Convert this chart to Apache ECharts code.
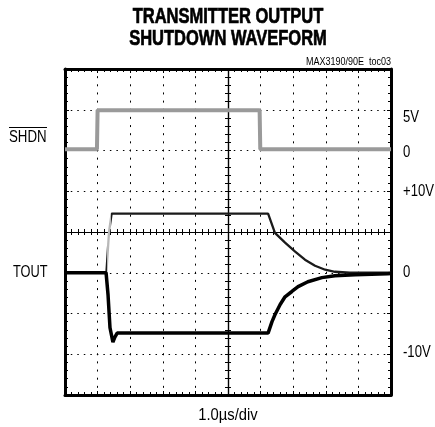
<!DOCTYPE html>
<html>
<head>
<meta charset="utf-8">
<script src="https://cdn.jsdelivr.net/npm/echarts@6/dist/echarts.min.js"></script>
<style>
html,body{margin:0;padding:0;background:#fff;}
#c{width:435px;height:427px;}
</style>
</head>
<body>
<div id="c"></div>
<script>
// ---- data (time in µs, voltage in V) ----
const shdnT = [0, 0.98, 1.00, 5.97, 5.99, 10];
const shdnV = [0.15, 0.15, 4.95, 4.95, 0.15, 0.15];

const toutNegT = [0, 1.26, 1.32, 1.38, 1.47, 1.53, 1.60, 6.23, 6.35, 6.44, 6.60, 6.75, 6.96, 7.15, 7.45, 7.88, 8.28, 8.90, 9.90, 10];
const toutNegV = [0, 0, -2.7, -6.75, -8.5, -7.9, -7.4, -7.4, -6.0, -5.15, -3.9, -2.95, -2.3, -1.7, -1.1, -0.6, -0.37, -0.25, -0.12, -0.1];

const toutPosT = [0, 1.27, 1.35, 1.43, 6.23, 6.44, 6.75, 7.06, 7.36, 7.67, 7.98, 8.28, 8.74, 10];
const toutPosV = [0, 0, 5.0, 7.25, 7.25, 4.9, 3.7, 2.6, 1.6, 0.86, 0.37, 0.12, 0, 0];

const rightLabels = ['5V', '0', '+10V', '0', '-10V'];
const leftLabels = ['SHDN', 'TOUT'];
const titleLines = ['TRANSMITTER OUTPUT', 'SHUTDOWN WAVEFORM'];
const noteText = 'MAX3190/90E  toc03';
const xLabel = '1.0\u00b5s/div';

const pairs = (t, v) => t.map((x, i) => [x, v[i]]);

const FONT = "'Liberation Sans',Arial,sans-serif";

const chart = echarts.init(document.getElementById('c'), null, {renderer: 'canvas'});

const G = {left: 65, top: 69, w: 326, h: 326};

function borderX(pos) {
  return {
    type: 'value', min: 0, max: 10, interval: 1, position: pos, gridIndex: 0,
    axisLine: {show: true, onZero: false, lineStyle: {color: '#000', width: 3}},
    axisTick: {show: true, inside: true, length: 4, lineStyle: {color: '#000', width: 1}},
    minorTick: {show: true, splitNumber: 5, length: 3, lineStyle: {color: '#000', width: 1}},
    axisLabel: {show: false}, splitLine: {show: false}
  };
}
function centerX(pos) {
  return {
    type: 'value', min: 0, max: 10, interval: 1, position: pos, gridIndex: 0,
    axisLine: {show: true, onZero: true, onZeroAxisIndex: 0, lineStyle: {color: '#000', width: 1.2}},
    axisTick: {show: true, inside: false, length: 3, lineStyle: {color: '#000', width: 1}},
    minorTick: {show: true, splitNumber: 5, length: 3, lineStyle: {color: '#000', width: 1}},
    axisLabel: {show: false}, splitLine: {show: false}
  };
}
function borderY(pos) {
  return {
    type: 'value', min: -4, max: 4, interval: 1, position: pos, gridIndex: 0,
    axisLine: {show: true, onZero: false, lineStyle: {color: '#000', width: 3}},
    axisTick: {show: true, inside: true, length: 4, lineStyle: {color: '#000', width: 1}},
    minorTick: {show: true, splitNumber: 5, length: 3, lineStyle: {color: '#000', width: 1}},
    axisLabel: {show: false}, splitLine: {show: false}
  };
}
function centerY(pos) {
  return {
    type: 'value', min: -4, max: 4, interval: 1, position: pos, offset: -G.w / 2, gridIndex: 0,
    axisLine: {show: true, onZero: false, lineStyle: {color: '#000', width: 1.2}},
    axisTick: {show: true, inside: false, length: 3, lineStyle: {color: '#000', width: 1}},
    minorTick: {show: true, splitNumber: 5, length: 3, lineStyle: {color: '#000', width: 1}},
    axisLabel: {show: false}, splitLine: {show: false}
  };
}

const x0 = borderX('bottom');
x0.splitLine = {show: true, lineStyle: {color: '#000', width: 1, type: [2, 6.15], dashOffset: 1}};
const y0 = borderY('left');
y0.splitLine = {show: true, lineStyle: {color: '#000', width: 1, type: [1.5, 5.02], dashOffset: 0.75}};

function txt(text, x, y, size, align, weight, sx, stroke) {
  const st = {text: text, fill: '#000', font: (weight || 'normal') + ' ' + size + 'px ' + FONT,
              textAlign: align || 'left', textVerticalAlign: 'middle'};
  if (stroke) { st.stroke = '#000'; st.lineWidth = stroke; }
  return {type: 'text', x: x, y: y, scaleX: sx || 1, silent: true, z: 10, style: st};
}

const option = {
  animation: false,
  backgroundColor: '#fff',
  grid: {left: G.left, top: G.top, width: G.w, height: G.h, containLabel: false},
  xAxis: [x0, borderX('top'), centerX('bottom'), centerX('top')],
  yAxis: [
    y0, borderY('right'), centerY('left'), centerY('right'),
    {type: 'value', min: -30, max: 10, show: false, position: 'left', axisLine: {onZero: false}},
    {type: 'value', min: -15, max: 25, show: false, position: 'left', axisLine: {onZero: false}}
  ],
  visualMap: [{
    type: 'piecewise', show: false, dimension: 0, seriesIndex: 1,
    pieces: [{gte: 1.28, lte: 1.42, color: '#b8b8b8'}],
    outOfRange: {color: '#1a1a1a'}
  }],
  series: [
    {type: 'line', name: 'SHDN', xAxisIndex: 0, yAxisIndex: 4, data: pairs(shdnT, shdnV),
     showSymbol: false, symbol: 'none', lineStyle: {color: '#9a9a9a', width: 4}, z: 3},
    {type: 'line', name: 'TOUT+', xAxisIndex: 0, yAxisIndex: 5, data: pairs(toutPosT, toutPosV),
     showSymbol: false, symbol: 'none', lineStyle: {width: 2.3}, z: 3},
    {type: 'line', name: 'TOUT-', xAxisIndex: 0, yAxisIndex: 5, data: pairs(toutNegT, toutNegV),
     showSymbol: false, symbol: 'none', lineStyle: {color: '#000', width: 3.5}, z: 4}
  ],
  graphic: [
    txt(titleLines[0], 228, 17, 22, 'center', 'bold', 0.75, 0.7),
    txt(titleLines[1], 228, 39, 22, 'center', 'bold', 0.75, 0.7),
    txt(noteText, 391, 62, 10, 'right', 'normal', 0.9),
    txt(leftLabels[0], 9, 138, 16, 'left', 'normal', 0.83),
    {type: 'line', silent: true, shape: {x1: 9, y1: 127.5, x2: 47, y2: 127.5}, style: {stroke: '#000', lineWidth: 1}},
    txt(leftLabels[1], 13, 273, 16, 'left', 'normal', 0.8),
    txt(rightLabels[0], 403, 118, 16, 'left', 'normal', 0.82),
    txt(rightLabels[1], 403, 153, 16, 'left', 'normal', 0.82),
    txt(rightLabels[2], 403, 192, 16, 'left', 'normal', 0.82),
    txt(rightLabels[3], 403, 273, 16, 'left', 'normal', 0.82),
    txt(rightLabels[4], 403, 353, 16, 'left', 'normal', 0.82),
    txt(xLabel, 228, 415, 17, 'center', 'normal', 0.87)
  ]
};
chart.setOption(option);
</script>
</body>
</html>
